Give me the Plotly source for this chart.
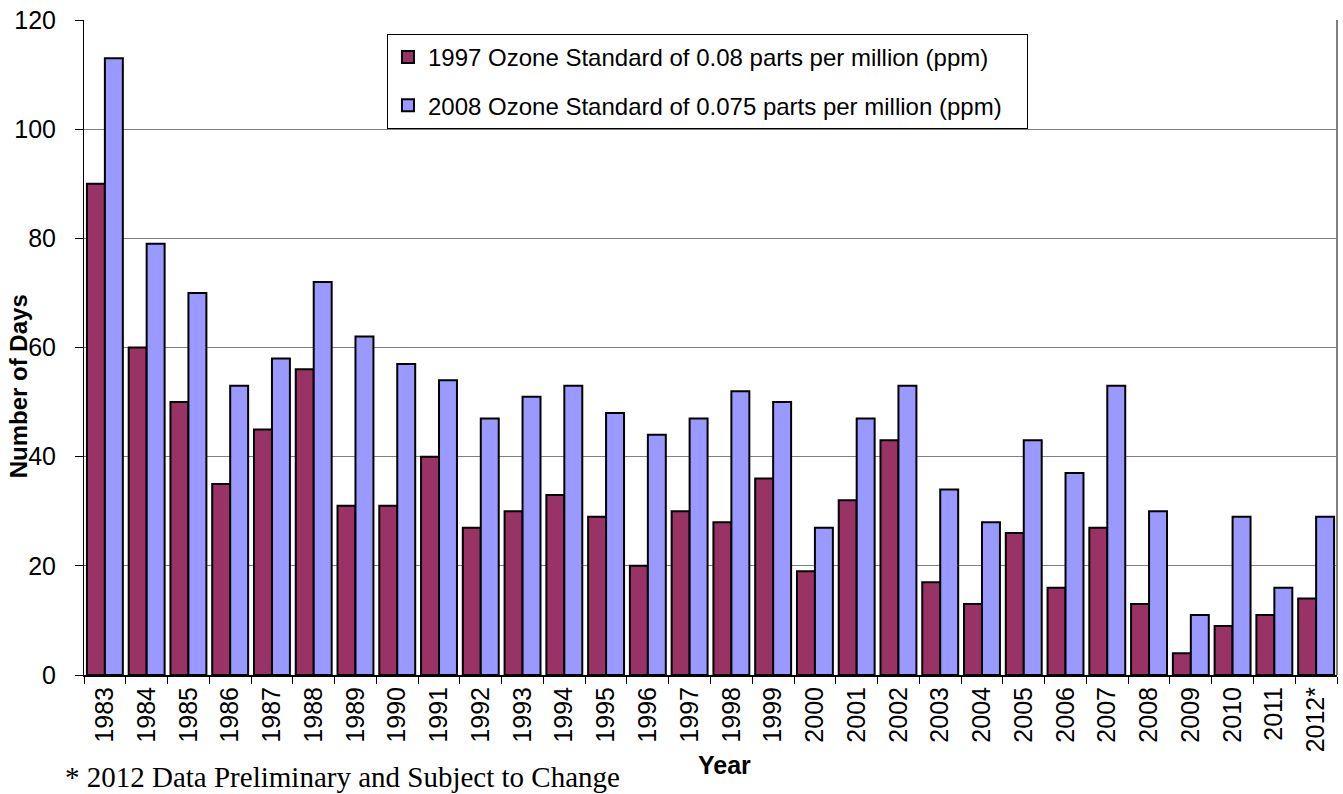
import plotly.graph_objects as go

years = ["1983", "1984", "1985", "1986", "1987", "1988", "1989", "1990", "1991", "1992",
         "1993", "1994", "1995", "1996", "1997", "1998", "1999", "2000", "2001", "2002",
         "2003", "2004", "2005", "2006", "2007", "2008", "2009", "2010", "2011", "2012*"]
std_1997 = [90, 60, 50, 35, 45, 56, 31, 31, 40, 27, 30, 33, 29, 20, 30, 28, 36, 19, 32, 43,
            17, 13, 26, 16, 27, 13, 4, 9, 11, 14]
std_2008 = [113, 79, 70, 53, 58, 72, 62, 57, 54, 47, 51, 53, 48, 44, 47, 52, 50, 27, 47, 53,
            34, 28, 43, 37, 53, 30, 11, 29, 16, 29]

ARIAL = "Liberation Sans, Arial, sans-serif"
TIMES = "Liberation Serif, Times New Roman, serif"
PAD = "\u00a0\u00a0\u00a0"  # extra room on the right of the legend box

fig = go.Figure()
fig.add_trace(go.Bar(
    x=years, y=std_1997, name="1997 Ozone Standard of 0.08 parts per million (ppm)" + PAD,
    marker=dict(color="#993366", line=dict(color="black", width=2)), legendgroup="a"
))
fig.add_trace(go.Bar(
    x=years, y=std_2008, name="2008 Ozone Standard of 0.075 parts per million (ppm)" + PAD,
    marker=dict(color="#9999FF", line=dict(color="black", width=2)), legendgroup="b"
))

fig.update_layout(
    width=1343, height=794,
    margin=dict(l=84, r=6, t=17, b=119),
    plot_bgcolor="white", paper_bgcolor="white",
    barmode="group", bargap=0.14, bargroupgap=0,
    font=dict(family=ARIAL, size=24, color="black"),
    legend=dict(
        x=0.2418, y=0.9786, xanchor="left", yanchor="top",
        bordercolor="black", borderwidth=1, bgcolor="white",
        traceorder="grouped", tracegroupgap=14,
        font=dict(size=24)
    ),
    annotations=[
        dict(text="<b>Number of Days</b>", xref="paper", yref="paper", x=-0.0527, y=0.4407,
             xanchor="center", yanchor="middle", textangle=-90, showarrow=False,
             font=dict(family=ARIAL, size=24)),
        dict(text="<b>Year</b>", xref="paper", yref="paper", x=0.5108, y=-0.1368,
             xanchor="center", yanchor="middle", showarrow=False,
             font=dict(family=ARIAL, size=25)),
        dict(text="* 2012 Data Preliminary and Subject to Change",
             xref="paper", yref="paper", x=-0.0168, y=-0.155, xanchor="left", yanchor="middle",
             showarrow=False, font=dict(family=TIMES, size=29)),
    ]
)

fig.update_yaxes(
    range=[0, 120], dtick=20, showgrid=True, gridcolor="#808080", gridwidth=1,
    showline=True, linecolor="black", linewidth=1, ticks="outside", ticklen=8,
    tickcolor="black", tickfont=dict(size=25), ticklabelstandoff=14
)
fig.update_xaxes(
    showline=True, linecolor="black", linewidth=2, mirror=False,
    ticks="outside", tickson="boundaries", ticklen=7, tickcolor="black",
    tickangle=-90, tickfont=dict(size=25)
)
# grey frame on the right side of the plot area
fig.add_shape(type="line", xref="paper", yref="paper", x0=1, x1=1, y0=0, y1=1,
              line=dict(color="#808080", width=2))

fig.write_html("out.html", config={"displayModeBar": False},
               post_script="document.body.style.margin='0';")
